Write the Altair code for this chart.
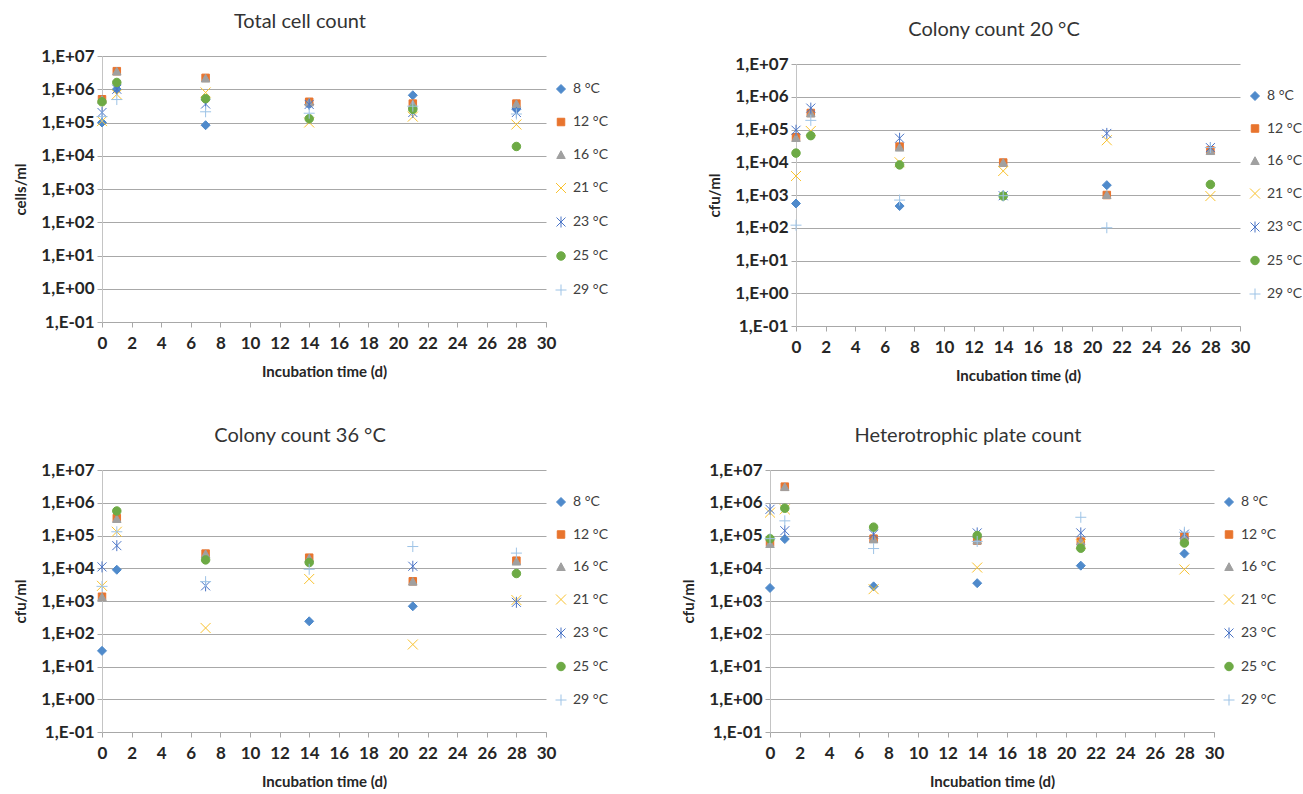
import altair as alt
import pandas as pd

# Sampling days
days = [0, 1, 7, 14, 21, 28]

# Incubation temperatures, one series each
series_names = ["8 °C", "12 °C", "16 °C", "21 °C", "23 °C", "25 °C", "29 °C"]
series_colors = ["#4F8ACB", "#E8742E", "#A0A0A0", "#F9C22E", "#4A74C6", "#6DAA45", "#9DC3E6"]
series_shapes = [
    "M0,-0.9L0.9,0L0,0.9L-0.9,0Z",                          # diamond
    "M-0.75,-0.75L0.75,-0.75L0.75,0.75L-0.75,0.75Z",        # square
    "M0,-0.85L0.85,0.7L-0.85,0.7Z",                          # triangle
    "M-1,-1L1,1M-1,1L1,-1",                                  # x
    "M-0.9,-0.9L0.9,0.9M-0.9,0.9L0.9,-0.9M0,-1.1L0,1.1",     # asterisk
    "M-0.85,0A0.85,0.85 0 1,1 0.85,0A0.85,0.85 0 1,1 -0.85,0Z",  # circle
    "M-1.1,0L1.1,0M0,-1.1L0,1.1",                            # plus
]

# Total cell count (cells/ml), per temperature, days 0..28
tcc_8 = [1.0e5, 1.0e6, 8.3e4, 3.5e5, 6.6e5, 2.5e5]
tcc_12 = [5.0e5, 3.5e6, 2.2e6, 4.2e5, 3.7e5, 3.7e5]
tcc_16 = [4.8e5, 3.4e6, 2.1e6, 4.0e5, 3.5e5, 3.6e5]
tcc_21 = [1.1e5, 7.0e5, 8.0e5, 1.0e5, 1.5e5, 8.7e4]
tcc_23 = [2.0e5, 1.0e6, 3.6e5, 3.5e5, 2.0e5, 2.0e5]
tcc_25 = [4.2e5, 1.6e6, 5.2e5, 1.3e5, 2.5e5, 1.9e4]
tcc_29 = [1.5e5, 4.9e5, 2.1e5, 1.9e5, 3.1e5, 1.8e5]

# Colony count 20 °C (cfu/ml)
c20_8 = [550, None, 460, 950, 2.0e3, None]
c20_12 = [5.8e4, 3.2e5, 3.0e4, 9.8e3, 1.0e3, 2.3e4]
c20_16 = [5.5e4, 3.1e5, 2.8e4, 9.6e3, 1.0e3, 2.2e4]
c20_21 = [3.8e3, 9.0e4, 1.0e4, 5.4e3, 4.7e4, 930]
c20_23 = [9.5e4, 4.5e5, 5.4e4, 950, 7.6e4, 2.8e4]
c20_25 = [1.9e4, 6.5e4, 8.3e3, 930, None, 2.1e3]
c20_29 = [120, 1.9e5, 700, 950, 100, 2.8e4]

# Colony count 36 °C (cfu/ml)
c36_8 = [30, 9.0e3, None, 240, 690, None]
c36_12 = [1.35e3, 3.4e5, 2.8e4, 2.1e4, 4.0e3, 1.7e4]
c36_16 = [1.3e3, 3.2e5, 2.7e4, 2.0e4, 3.9e3, 1.6e4]
c36_21 = [2.9e3, 1.3e5, 150, 4.7e3, 47, 1.07e3]
c36_23 = [1.1e4, 4.9e4, 2.9e3, None, 1.15e4, 910]
c36_25 = [None, 5.6e5, 1.8e4, 1.5e4, None, 6.9e3]
c36_29 = [2.8e3, 1.3e5, 3.9e3, 9.3e3, 4.6e4, 2.9e4]

# Heterotrophic plate count (cfu/ml)
hpc_8 = [2.5e3, 7.8e4, 2.8e3, 3.5e3, 1.2e4, 2.8e4]
hpc_12 = [6.1e4, 3.1e6, 8.0e4, 7.0e4, 6.5e4, 9.3e4]
hpc_16 = [5.5e4, 3.0e6, 7.6e4, 7.0e4, 6.6e4, 9.3e4]
hpc_21 = [5.0e5, 6.3e5, 2.3e3, 1.05e4, 5.5e4, 9.2e3]
hpc_23 = [6.3e5, 1.4e5, 1.1e5, 1.2e5, 1.2e5, 1.1e5]
hpc_25 = [8.0e4, 6.8e5, 1.8e5, 1.0e5, 4.1e4, 5.9e4]
hpc_29 = [8.0e4, 2.8e5, 4.0e4, 6.6e4, 3.6e5, 1.26e5]

y_ticks = [1e-1, 1e0, 1e1, 1e2, 1e3, 1e4, 1e5, 1e6, 1e7]
x_ticks = list(range(0, 31, 2))

FONT = "Lato"
GRID = "#A8A8A8"


def long_table(series_lists):
    rows = []
    for name, vals in zip(series_names, series_lists):
        for d, v in zip(days, vals):
            if v is not None:
                rows.append({"day": d, "value": v, "series": name})
    return pd.DataFrame(rows)


def panel(series_lists, title, ytitle, plot_h, row_pad, legend_y, top_inset=0):
    """One scatter panel; top_inset leaves a blank band above the plotted range."""
    color_scale = alt.Scale(domain=series_names, range=series_colors)
    shape_scale = alt.Scale(domain=series_names, range=series_shapes)
    height = plot_h + top_inset
    legend = alt.Legend(
        orient="none", legendX=452, legendY=legend_y + top_inset, title=None,
        labelFont=FONT, labelFontSize=14, labelColor="#404040",
        symbolSize=100, symbolStrokeWidth=1, labelOffset=5,
        rowPadding=row_pad, padding=0,
    )
    return (
        alt.Chart(long_table(series_lists))
        .mark_point(filled=False, opacity=1, strokeWidth=1, size=100)
        .encode(
            x=alt.X(
                "day:Q",
                scale=alt.Scale(domain=[0, 30], nice=False, zero=False),
                axis=alt.Axis(
                    values=x_ticks, grid=False, title="Incubation time (d)",
                    labelFont=FONT, labelFontSize=17, labelFontWeight="bold",
                    labelColor="#262626", labelPadding=8, labelFlush=False,
                    domainColor=GRID, tickColor=GRID, tickSize=5,
                    titleFont=FONT, titleFontSize=15, titleFontWeight="bold",
                    titleColor="#262626", titlePadding=13,
                ),
            ),
            y=alt.Y(
                "value:Q",
                scale=alt.Scale(type="log", domain=[0.1, 1e7], nice=False,
                                range=[height, top_inset]),
                axis=alt.Axis(
                    values=y_ticks, title=ytitle,
                    labelExpr="'1,E' + (datum.value < 1 ? '-' : '+') + format(abs(round(log(datum.value) / LN10)), '02d')",
                    grid=True, gridColor=GRID, gridWidth=1, labelFlush=False,
                    labelFont=FONT, labelFontSize=17, labelFontWeight="bold",
                    labelColor="#262626", labelPadding=3,
                    domainColor="#C4C4C4", tickColor=GRID, tickSize=5,
                    titleFont=FONT, titleFontSize=15, titleFontWeight="bold",
                    titleColor="#262626", titlePadding=12,
                ),
            ),
            fill=alt.Fill("series:N", scale=color_scale, legend=legend),
            stroke=alt.Stroke("series:N", scale=color_scale, legend=legend),
            shape=alt.Shape("series:N", scale=shape_scale, legend=legend),
        )
        .properties(
            width=444, height=height,
            title=alt.TitleParams(
                title, font=FONT, fontSize=20, fontWeight="normal", color="#333333",
                anchor="middle", frame="group", dx=-24, offset=15,
            ),
        )
    )


def independent(chart):
    return chart.resolve_legend(fill="independent", stroke="independent", shape="independent")


p1 = panel([tcc_8, tcc_12, tcc_16, tcc_21, tcc_23, tcc_25, tcc_29],
           "Total cell count", "cells/ml", 266, 19, 26)
p2 = panel([c20_8, c20_12, c20_16, c20_21, c20_23, c20_25, c20_29],
           "Colony count 20 °C", "cfu/ml", 262, 18.5, 25, top_inset=8)
p3 = panel([c36_8, c36_12, c36_16, c36_21, c36_23, c36_25, c36_29],
           "Colony count 36 °C", "cfu/ml", 262, 18.5, 25)
p4 = panel([hpc_8, hpc_12, hpc_16, hpc_21, hpc_23, hpc_25, hpc_29],
           "Heterotrophic plate count", "cfu/ml", 262, 18.5, 25)

row1 = independent(alt.hconcat(p1, p2, spacing=99))
row2 = independent(alt.hconcat(p3, p4, spacing=73))

chart = (
    independent(alt.vconcat(row1, row2, spacing=43))
    .properties(padding={"left": 13, "top": 12, "right": 0, "bottom": 0})
    .configure_view(stroke=None)
)

chart.save("out.html", embed_options={"renderer": "svg", "actions": False})
